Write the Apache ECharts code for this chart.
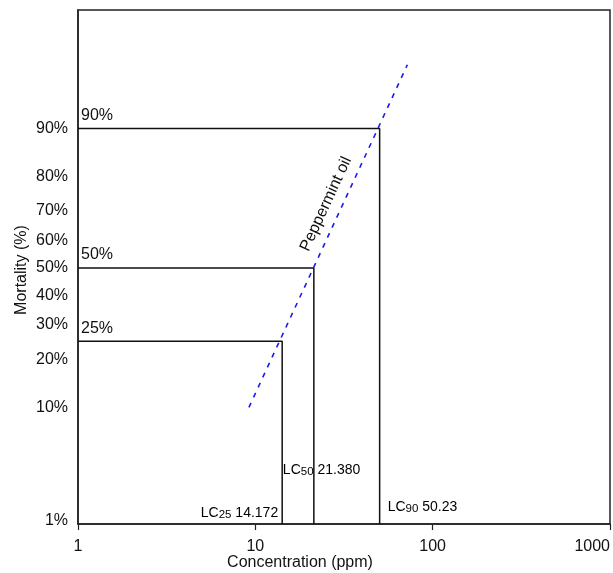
<!DOCTYPE html>
<html>
<head>
<meta charset="utf-8">
<script src="https://cdn.jsdelivr.net/npm/echarts@6/dist/echarts.min.js"></script>
<style>html,body{margin:0;padding:0;background:#fff}#c{width:613px;height:573px}</style>
</head>
<body>
<div id="c"></div>
<script>
// ---- data ----
var xTicks = [1, 10, 100, 1000];
var yTickPercents = [1, 10, 20, 30, 40, 50, 60, 70, 80, 90];
var yRangePct = [0.93, 99.11];          // axis extent, mortality %
var lcLevels = [25, 50, 90];            // mortality %
var lcValues = [14.172, 21.380, 50.23]; // concentration ppm
var lcNames = ['25', '50', '90'];
var lcTexts = ['14.172', '21.380', '50.23'];
var fitLineConc = [9.2, 72];            // ppm, regression line ends
var fitLinePct = [10, 96.9];            // mortality % at ends
var seriesName = 'Peppermint oil';

// inverse standard normal (probit scale transform)
function probit(p) {
  var a = [-3.969683028665376e+01, 2.209460984245205e+02, -2.759285104469687e+02, 1.383577518672690e+02, -3.066479806614716e+01, 2.506628277459239e+00];
  var b = [-5.447609879822406e+01, 1.615858368580409e+02, -1.556989798598866e+02, 6.680131188771972e+01, -1.328068155288572e+01];
  var c = [-7.784894002430293e-03, -3.223964580411365e-01, -2.400758277161838e+00, -2.549732539343734e+00, 4.374664141464968e+00, 2.938163982698783e+00];
  var d = [7.784695709041462e-03, 3.224671290700398e-01, 2.445134137142996e+00, 3.754408661907416e+00];
  var pl = 0.02425, q, r;
  if (p < pl) { q = Math.sqrt(-2 * Math.log(p)); return (((((c[0]*q+c[1])*q+c[2])*q+c[3])*q+c[4])*q+c[5]) / ((((d[0]*q+d[1])*q+d[2])*q+d[3])*q+1); }
  if (p <= 1 - pl) { q = p - 0.5; r = q*q; return (((((a[0]*r+a[1])*r+a[2])*r+a[3])*r+a[4])*r+a[5])*q / (((((b[0]*r+b[1])*r+b[2])*r+b[3])*r+b[4])*r+1); }
  q = Math.sqrt(-2 * Math.log(1 - p)); return -(((((c[0]*q+c[1])*q+c[2])*q+c[3])*q+c[4])*q+c[5]) / ((((d[0]*q+d[1])*q+d[2])*q+d[3])*q+1);
}
var yMin = probit(yRangePct[0] / 100), yMax = probit(yRangePct[1] / 100);
var yTickVals = yTickPercents.map(function (p) { return probit(p / 100); });
function pctLabel(v) {
  for (var i = 0; i < yTickVals.length; i++) if (Math.abs(yTickVals[i] - v) < 1e-6) return yTickPercents[i] + '%';
  return '';
}

var font = 'Liberation Sans, Arial, sans-serif';
var series = [];
lcLevels.forEach(function (lv, i) {
  var z = probit(lv / 100);
  series.push({
    type: 'line', symbol: 'none', silent: true, animation: false,
    lineStyle: { color: '#111', width: 1.5 },
    data: [[1, z], [lcValues[i], z], [lcValues[i], yMin]]
  });
});
series.push({
  type: 'line', symbol: 'none', silent: true, animation: false,
  lineStyle: { color: '#1a1aee', width: 1.6, type: [5, 6] },
  data: [[fitLineConc[0], probit(fitLinePct[0] / 100)], [fitLineConc[1], probit(fitLinePct[1] / 100)]]
});

var chart = echarts.init(document.getElementById('c'), null, { renderer: 'canvas' });
chart.setOption({
  animation: false,
  grid: { left: 78, right: 2, top: 10, bottom: 49, show: true, borderColor: '#222', borderWidth: 1.5 },
  xAxis: {
    type: 'log', logBase: 10, min: 1, max: 1000,
    axisLine: { onZero: false, lineStyle: { color: '#222', width: 1.5 } },
    axisTick: { show: true, length: 6, lineStyle: { color: '#222', width: 1.2 } },
    splitLine: { show: false }, minorTick: { show: false },
    axisLabel: { color: '#111', fontSize: 16, fontFamily: font, margin: 15, alignMaxLabel: 'right',
      formatter: function (v) { return String(Math.round(v)); } }
  },
  yAxis: {
    type: 'value', min: yMin, max: yMax,
    axisLine: { show: true, onZero: false, lineStyle: { color: '#222', width: 1.5 } },
    axisTick: { show: false },
    splitLine: { show: false },
    axisLabel: { color: '#111', fontSize: 16, fontFamily: font, margin: 10, customValues: yTickVals, formatter: pctLabel, verticalAlign: 'middle', padding: [0, 0, 4, 0] }
  },
  series: series
});

// annotations positioned from data coordinates
var g = [];
lcLevels.forEach(function (lv, i) {
  var p = chart.convertToPixel({ gridIndex: 0 }, [1, probit(lv / 100)]);
  g.push({ type: 'text', x: p[0] + 3, y: p[1] - 5, style: { text: lv + '%', fontSize: 16, fontFamily: font, fill: '#111', textVerticalAlign: 'bottom' } });
});
lcValues.forEach(function (v, i) {
  var px = chart.convertToPixel({ gridIndex: 0 }, [v, yMin]);
  var x, y, align = 'left';
  if (i === 0) { x = px[0] - 4; y = px[1] - 3; align = 'right'; }
  else if (i === 1) { x = px[0] - 31; y = px[1] - 46; }
  else { x = px[0] + 8; y = px[1] - 9; }
  g.push({ type: 'text', x: x, y: y, style: {
    text: '{a|LC}{s|' + lcNames[i] + '}{a| ' + lcTexts[i] + '}',
    align: align, verticalAlign: 'bottom',
    rich: { a: { fontSize: 14, fontFamily: font, color: '#111' }, s: { fontSize: 11.5, fontFamily: font, color: '#111', padding: [3, 0, 0, 0] } }
  } });
});
var c1 = chart.convertToPixel({ gridIndex: 0 }, [fitLineConc[0], probit(fitLinePct[0] / 100)]);
var c2 = chart.convertToPixel({ gridIndex: 0 }, [fitLineConc[1], probit(fitLinePct[1] / 100)]);
var ang = Math.atan2(c1[1] - c2[1], c2[0] - c1[0]);
g.push({ type: 'text', x: 326, y: 204, rotation: ang, style: { text: seriesName, fontSize: 16, fontFamily: font, fill: '#111', align: 'center', verticalAlign: 'middle' } });
g.push({ type: 'text', x: 300, y: 563, style: { text: 'Concentration (ppm)', fontSize: 16, fontFamily: font, fill: '#111', align: 'center', verticalAlign: 'middle' } });
g.push({ type: 'text', x: 22, y: 270, rotation: Math.PI / 2, style: { text: 'Mortality (%)', fontSize: 16, fontFamily: font, fill: '#111', align: 'center', verticalAlign: 'middle' } });
chart.setOption({ graphic: g });
</script>
</body>
</html>
